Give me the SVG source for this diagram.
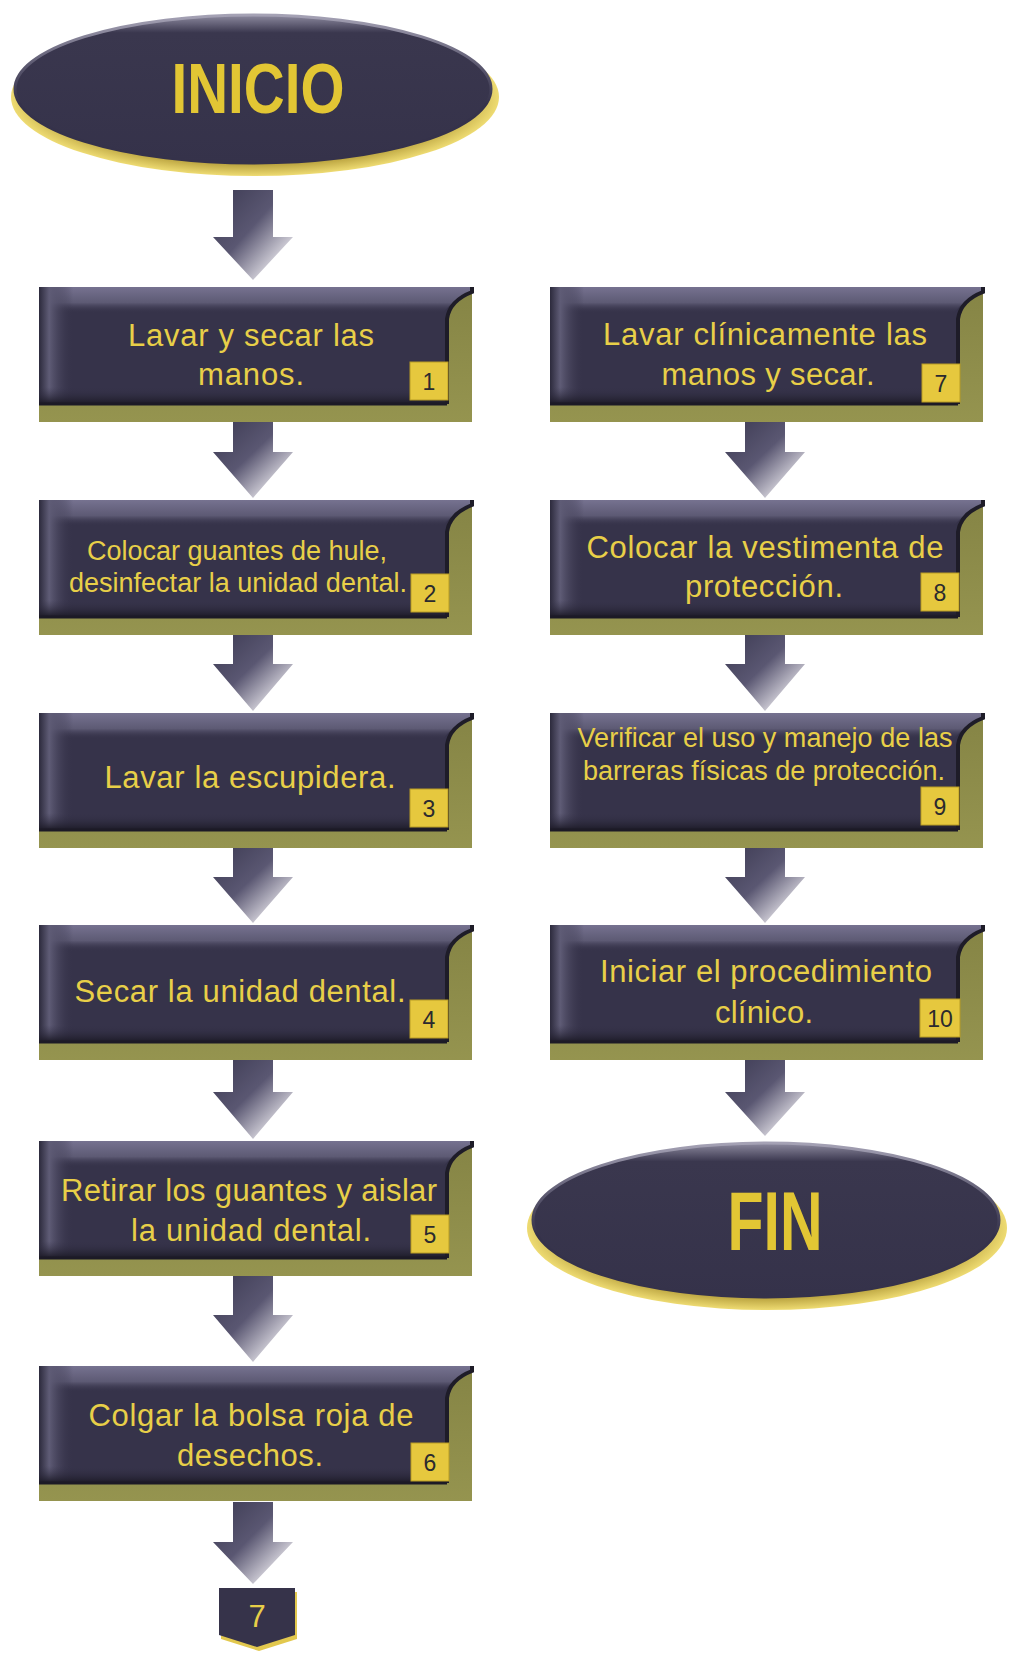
<svg xmlns="http://www.w3.org/2000/svg" xmlns:xlink="http://www.w3.org/1999/xlink" width="1013" height="1655" viewBox="0 0 1013 1655">
<style>
.t{font-family:"Liberation Sans",Arial,sans-serif;fill:#e8cf48;text-anchor:middle;font-size:31px}
.s{font-size:27px}
.n{font-family:"Liberation Sans",Arial,sans-serif;fill:#2b2a2e;text-anchor:middle;font-size:23px}
.big{font-family:"Liberation Sans",Arial,sans-serif;font-weight:bold;fill:#e2c634;text-anchor:middle}
.badge{fill:#e6c83e;stroke:#b89c24;stroke-width:1}
.arrow{fill:url(#arrowG)}
</style>
<defs>
<linearGradient id="olive" x1="0" y1="0" x2="0" y2="1">
<stop offset="0" stop-color="#858445"/><stop offset="1" stop-color="#95944f"/>
</linearGradient>
<linearGradient id="topB" x1="0" y1="0" x2="0" y2="1">
<stop offset="0" stop-color="#767290"/><stop offset="0.6" stop-color="#5d5a74"/><stop offset="1" stop-color="#36334a" stop-opacity="0"/>
</linearGradient>
<linearGradient id="leftB" x1="0" y1="0" x2="1" y2="0">
<stop offset="0" stop-color="#2c2a3c"/><stop offset="0.3" stop-color="#5f5c76"/><stop offset="1" stop-color="#36334a" stop-opacity="0"/>
</linearGradient>
<linearGradient id="botS" x1="0" y1="0" x2="0" y2="1">
<stop offset="0" stop-color="#36334a" stop-opacity="0"/><stop offset="1" stop-color="#1c1a26"/>
</linearGradient>
<linearGradient id="arrowG" x1="0" y1="0" x2="1" y2="1">
<stop offset="0" stop-color="#3c3a52"/><stop offset="0.45" stop-color="#5a5772"/><stop offset="0.8" stop-color="#d8d6de"/><stop offset="1" stop-color="#ffffff"/>
</linearGradient>
<linearGradient id="ellG" x1="0" y1="0" x2="0" y2="1">
<stop offset="0" stop-color="#8e8ba0"/><stop offset="0.12" stop-color="#3a374e"/><stop offset="1" stop-color="#35324a"/>
</linearGradient>
<linearGradient id="rimG" x1="0" y1="0" x2="0" y2="1">
<stop offset="0" stop-color="#a5a2b5"/><stop offset="0.35" stop-color="#5a576e"/><stop offset="0.6" stop-color="#35324a"/><stop offset="1" stop-color="#35324a"/>
</linearGradient>
<radialGradient id="goldG" cx="0.5" cy="0.5" r="0.5">
<stop offset="0.85" stop-color="#b9a23e"/><stop offset="1" stop-color="#eedb72"/>
</radialGradient>
<g id="box">
<rect width="433" height="135" fill="url(#olive)"/>
<path d="M0,0 H433 V5 C420,10 410,18 408,32 V117 H0 Z" fill="#36334a"/>
<path d="M0,0 H433 V5 C420,10 410,18 404,26 H0 Z" fill="url(#topB)"/>
<rect x="0" y="0" width="34" height="117" fill="url(#leftB)"/>
<rect x="0" y="100" width="408" height="17" fill="url(#botS)"/>
<path d="M433,0 V5 C420,10 410,18 408,32 V117" fill="none" stroke="#1e1c28" stroke-width="4"/>
<path d="M0,117 H408" stroke="#1c1a26" stroke-width="3"/>
</g>
</defs>
<rect width="1013" height="1655" fill="#ffffff"/>

<g id="connectors">
<path class="arrow" d="M233,190 H273 V237 H293 L253,280 L213,237 H233 Z"/>
<path class="arrow" d="M233,422 H273 V452 H293 L253,498 L213,452 H233 Z"/>
<path class="arrow" d="M233,634 H273 V664 H293 L253,711 L213,664 H233 Z"/>
<path class="arrow" d="M233,847 H273 V877 H293 L253,923 L213,877 H233 Z"/>
<path class="arrow" d="M233,1059 H273 V1092 H293 L253,1139 L213,1092 H233 Z"/>
<path class="arrow" d="M233,1276 H273 V1315 H293 L253,1362 L213,1315 H233 Z"/>
<path class="arrow" d="M233,1502 H273 V1542 H293 L253,1584 L213,1542 H233 Z"/>
<path class="arrow" d="M745,422 H785 V452 H805 L765,498 L725,452 H745 Z"/>
<path class="arrow" d="M745,634 H785 V664 H805 L765,711 L725,664 H745 Z"/>
<path class="arrow" d="M745,847 H785 V877 H805 L765,923 L725,877 H745 Z"/>
<path class="arrow" d="M745,1059 H785 V1092 H805 L765,1136 L725,1092 H745 Z"/>
</g>

<g id="inicio">
<ellipse cx="255" cy="97" rx="244" ry="79" fill="url(#goldG)"/>
<ellipse cx="253" cy="89" rx="238" ry="74" fill="url(#ellG)" stroke="url(#rimG)" stroke-width="3"/>
<text class="big" x="258" y="113" font-size="70" textLength="173" lengthAdjust="spacingAndGlyphs">INICIO</text>
</g>

<g id="n1" transform="translate(39,287)">
<use xlink:href="#box"/>
<text class="t" x="212" y="59" textLength="246">Lavar y secar las</text>
<text class="t" x="212" y="98" textLength="106">manos.</text>
<rect class="badge" x="371" y="75" width="38" height="38"/><text class="n" x="390" y="103">1</text>
</g>
<g id="n2" transform="translate(39,500)">
<use xlink:href="#box"/>
<text class="t s" x="198" y="60" textLength="300">Colocar guantes de hule,</text>
<text class="t s" x="199" y="92" textLength="338">desinfectar la unidad dental.</text>
<rect class="badge" x="372" y="74" width="38" height="38"/><text class="n" x="391" y="102">2</text>
</g>
<g id="n3" transform="translate(39,713)">
<use xlink:href="#box"/>
<text class="t" x="211" y="75" textLength="291">Lavar la escupidera.</text>
<rect class="badge" x="371" y="76" width="38" height="38"/><text class="n" x="390" y="104">3</text>
</g>
<g id="n4" transform="translate(39,925)">
<use xlink:href="#box"/>
<text class="t" x="201" y="77" textLength="331">Secar la unidad dental.</text>
<rect class="badge" x="371" y="75" width="38" height="38"/><text class="n" x="390" y="103">4</text>
</g>
<g id="n5" transform="translate(39,1141)">
<use xlink:href="#box"/>
<text class="t" x="210" y="60" textLength="376">Retirar los guantes y aislar</text>
<text class="t" x="212" y="100" textLength="240">la unidad dental.</text>
<rect class="badge" x="372" y="74" width="38" height="38"/><text class="n" x="391" y="102">5</text>
</g>
<g id="n6" transform="translate(39,1366)">
<use xlink:href="#box"/>
<text class="t" x="212" y="60" textLength="325">Colgar la bolsa roja de</text>
<text class="t" x="211" y="100" textLength="146">desechos.</text>
<rect class="badge" x="372" y="77" width="38" height="38"/><text class="n" x="391" y="105">6</text>
</g>
<g id="n7" transform="translate(550,287)">
<use xlink:href="#box"/>
<text class="t" x="215" y="58" textLength="324">Lavar clínicamente las</text>
<text class="t" x="218" y="98" textLength="213">manos y secar.</text>
<rect class="badge" x="372" y="77" width="38" height="38"/><text class="n" x="391" y="105">7</text>
</g>
<g id="n8" transform="translate(550,500)">
<use xlink:href="#box"/>
<text class="t" x="215" y="58" textLength="357">Colocar la vestimenta de</text>
<text class="t" x="214" y="97" textLength="158">protección.</text>
<rect class="badge" x="371" y="73" width="38" height="38"/><text class="n" x="390" y="101">8</text>
</g>
<g id="n9" transform="translate(550,713)">
<use xlink:href="#box"/>
<text class="t s" x="215" y="34" textLength="375">Verificar el uso y manejo de las</text>
<text class="t s" x="214" y="67" textLength="362">barreras físicas de protección.</text>
<rect class="badge" x="371" y="74" width="38" height="38"/><text class="n" x="390" y="102">9</text>
</g>
<g id="n10" transform="translate(550,925)">
<use xlink:href="#box"/>
<text class="t" x="216" y="57" textLength="332">Iniciar el procedimiento</text>
<text class="t" x="214" y="98" textLength="98">clínico.</text>
<rect class="badge" x="370" y="74" width="40" height="38"/><text class="n" x="390" y="102">10</text>
</g>

<g id="fin">
<ellipse cx="767" cy="1228" rx="240" ry="82" fill="url(#goldG)"/>
<ellipse cx="766" cy="1220" rx="233" ry="77" fill="url(#ellG)" stroke="url(#rimG)" stroke-width="3"/>
<text class="big" x="775" y="1250" font-size="84" textLength="95" lengthAdjust="spacingAndGlyphs">FIN</text>
</g>

<g id="offpage7">
<path d="M221,1592 H297 V1639 L259,1651 L221,1639 Z" fill="#e2c84e"/>
<path d="M219,1588 H295 V1635 L257,1647 L219,1635 Z" fill="#36334a"/>
<text class="t" x="257" y="1627" font-size="30">7</text>
</g>
</svg>
